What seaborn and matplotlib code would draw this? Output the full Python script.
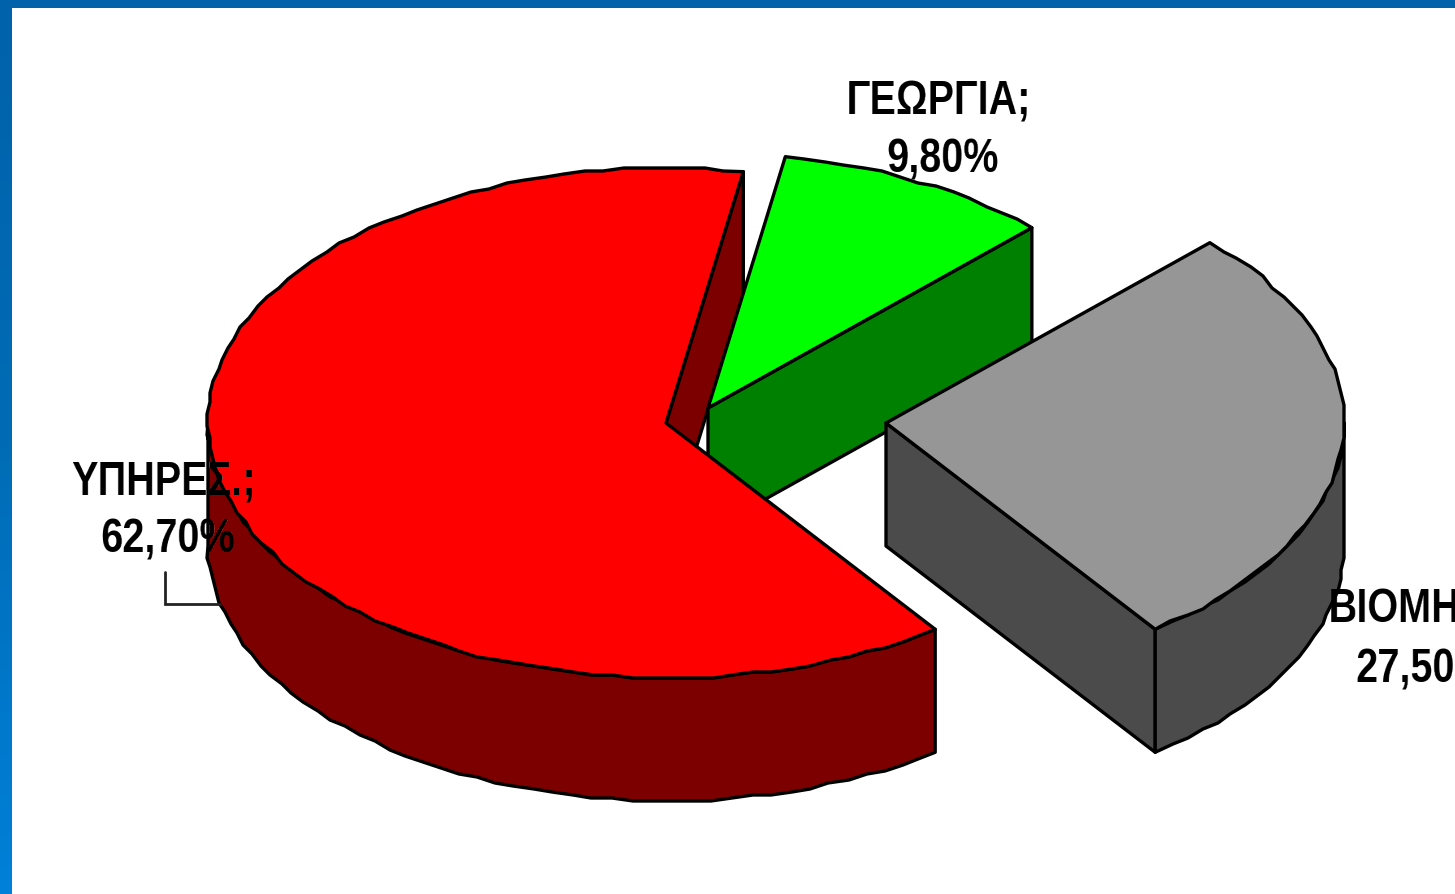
import numpy as np
import matplotlib
matplotlib.use("Agg")
import matplotlib.pyplot as plt
from matplotlib.patches import Polygon
import seaborn as sns

# --- chart data ---
categories = ["ΒΙΟΜΗΧ.", "ΓΕΩΡΓΙΑ", "ΥΠΗΡΕΣ."]
shares = [27.5, 9.8, 62.7]
top_colors = ["#969696", "#00ff00", "#ff0000"]
side_colors = ["#4b4b4b", "#008000", "#7c0000"]

# --- pie geometry, in pixels ---
CENTER = (666, 423)
RX, RY = 458, 255
DEPTH = 123
START_ANGLE = -54.0
OFFSETS = [(220, 0), (42, -15), (0, 0)]
GRID = 3
LW = 2.4
TEXT_SQUEEZE = 0.815
EDGE_SHIFT = 128  # right hand label runs off the slide, see squeeze()

sns.set_theme(style="white")
plt.rcParams["font.family"] = ["Liberation Sans", "DejaVu Sans"]


def arc(cx, cy, a0, a1):
    # outer edge is a bit jagged in the original, so snap inner points to a coarse grid
    n = max(int(abs(a1 - a0) / 2.5), 2)
    t = np.radians(np.linspace(a0, a1, n + 1))
    x = cx + RX * np.cos(t)
    y = cy - RY * np.sin(t)
    x[1:-1] = np.round(x[1:-1] / GRID) * GRID
    y[1:-1] = np.round(y[1:-1] / GRID) * GRID
    return np.column_stack([x, y])


def add_poly(ax, pts, color):
    ax.add_patch(Polygon(pts, closed=True, facecolor=color, edgecolor="black",
                         linewidth=LW, joinstyle="round"))


def cut_face(ax, cx, cy, angle, color):
    t = np.radians(angle)
    ex, ey = cx + RX * np.cos(t), cy - RY * np.sin(t)
    add_poly(ax, [(cx, cy), (ex, ey), (ex, ey + DEPTH), (cx, cy + DEPTH)], color)


def outer_wall(ax, cx, cy, a0, a1, color):
    top = arc(cx, cy, a0, a1)
    bottom = top + [0, DEPTH]
    add_poly(ax, np.vstack([top, bottom[::-1]]), color)


def top_face(ax, cx, cy, a0, a1, color):
    add_poly(ax, np.vstack([[(cx, cy)], arc(cx, cy, a0, a1)]), color)


def squeeze(shift=None):
    # the labels are a narrow arial in the original, no narrow font here so squeeze the drawn text
    # shift: draw the text that far right of where it was laid out, so it gets cut by the
    # slide edge only after squeezing
    def _filter(img, dpi):
        h, w = img.shape[:2]
        new_w = max(int(round(w * TEXT_SQUEEZE)), 1)
        xs = np.linspace(0, w - 1, new_w)
        out = np.stack([[np.interp(xs, np.arange(w), img[r, :, c]) for r in range(h)]
                        for c in range(img.shape[2])], axis=-1)
        ox = (w - new_w) // 2 if shift is None else shift
        return out, ox, 0
    return _filter


fig = plt.figure(figsize=(14.55, 8.94), dpi=100, facecolor="white")
ax = fig.add_axes([0, 0, 1, 1])
ax.axis("off")

# blue frame, left strip fades down the slide
frame = sns.blend_palette(["#0062aa", "#006cb6", "#0080d8"], 64)
ax.imshow(np.array(frame)[:, None, :], extent=(0, 12, 894, 0), aspect="auto", zorder=5)
ax.fill_between([0, 1455], 0, 8, color="#0062aa", linewidth=0, zorder=5)
ax.set_xlim(0, 1455)
ax.set_ylim(894, 0)

ends = START_ANGLE + np.cumsum(shares) * 3.6
starts = np.r_[START_ANGLE, ends[:-1]]
centers = [(CENTER[0] + dx, CENTER[1] + dy) for dx, dy in OFFSETS]

# back to front: red inner cut, green slice, grey slice, red slice
(gx, gy), (hx, hy), (rx, ry) = centers
cut_face(ax, rx, ry, starts[2], side_colors[2])

cut_face(ax, hx, hy, starts[1], side_colors[1])
top_face(ax, hx, hy, starts[1], ends[1], top_colors[1])

cut_face(ax, gx, gy, starts[0], side_colors[0])
outer_wall(ax, gx, gy, starts[0], 0, side_colors[0])
top_face(ax, gx, gy, starts[0], ends[0], top_colors[0])

outer_wall(ax, rx, ry, 180, ends[2], side_colors[2])
top_face(ax, rx, ry, starts[2], ends[2], top_colors[2])

# leader line for the services label
ax.plot([165, 165, 220], [572, 604, 604], color="#222222", lw=2, zorder=3,
        solid_joinstyle="miter")

# labels, greek decimal comma like the original
label_style = dict(fontsize=35, fontweight="bold", color="black", zorder=4)
for name, share, (x1, y1, x2, y2, ha) in zip(
        categories, shares,
        [(1328 - EDGE_SHIFT, 623, 1355 - EDGE_SHIFT, 682, "left"),
         (939, 115, 943, 173, "center"),
         (164, 495, 168, 553, "center")]):
    pct = f"{share:.2f}".replace(".", ",") + "%"
    f = squeeze(EDGE_SHIFT if ha == "left" else None)
    ax.text(x1, y1, f"{name};", ha=ha, va="baseline", agg_filter=f, **label_style)
    ax.text(x2, y2, pct, ha=ha, va="baseline", agg_filter=f, **label_style)

fig.savefig("out.png", dpi=100)
